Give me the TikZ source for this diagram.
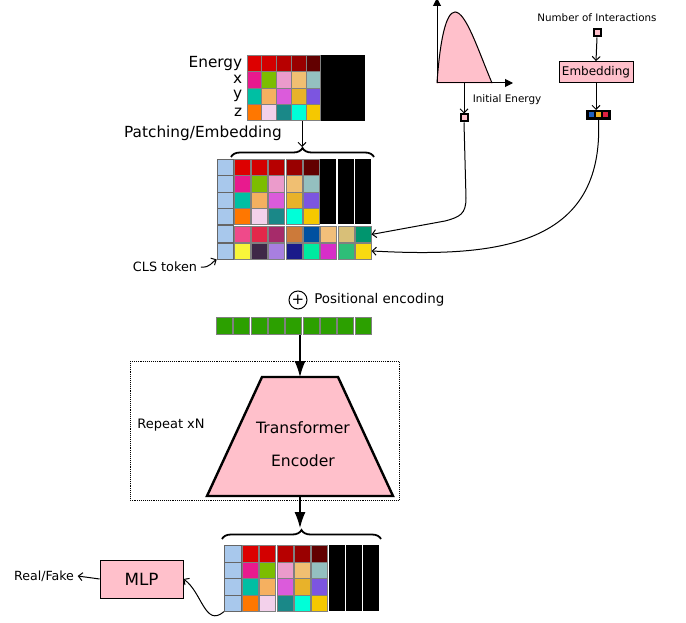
\documentclass[tikz,border=0pt]{standalone}
\usepackage{fontspec}
\setmainfont{DejaVu Sans}
\usetikzlibrary{positioning, shapes.geometric, arrows.meta, calc, decorations.pathreplacing}
\definecolor{ebA}{HTML}{DD0000}
\definecolor{ebB}{HTML}{D30000}
\definecolor{ebC}{HTML}{B70000}
\definecolor{ebD}{HTML}{990000}
\definecolor{ebE}{HTML}{620000}
\definecolor{pxA}{HTML}{E81A8E}
\definecolor{pxB}{HTML}{7CBD00}
\definecolor{pxC}{HTML}{EB9BCB}
\definecolor{pxD}{HTML}{F0BF72}
\definecolor{pxE}{HTML}{94C0C0}
\definecolor{pyA}{HTML}{00BFA3}
\definecolor{pyB}{HTML}{F5B060}
\definecolor{pyC}{HTML}{DB5BDB}
\definecolor{pyD}{HTML}{E8B22A}
\definecolor{pyE}{HTML}{7C55E0}
\definecolor{pzA}{HTML}{FF7700}
\definecolor{pzB}{HTML}{F3D1EB}
\definecolor{pzC}{HTML}{1A8888}
\definecolor{pzD}{HTML}{00FFD8}
\definecolor{pzE}{HTML}{F5C800}
\definecolor{tkA}{HTML}{EF4A8A}
\definecolor{tkB}{HTML}{E3284A}
\definecolor{tkC}{HTML}{A62B6A}
\definecolor{tkD}{HTML}{CC7A3A}
\definecolor{tkE}{HTML}{0050A0}
\definecolor{tkF}{HTML}{F2BF7A}
\definecolor{tkG}{HTML}{D8BF78}
\definecolor{tkH}{HTML}{00956E}
\definecolor{nkA}{HTML}{F8F53A}
\definecolor{nkB}{HTML}{3F2848}
\definecolor{nkC}{HTML}{A87FE0}
\definecolor{nkD}{HTML}{1A1A8A}
\definecolor{nkE}{HTML}{00EBA0}
\definecolor{nkF}{HTML}{D82EC8}
\definecolor{nkG}{HTML}{2EBE78}
\definecolor{nkH}{HTML}{F8DA10}
\definecolor{clsblue}{HTML}{A8C8EC}
\definecolor{posgreen}{HTML}{2CA000}
\definecolor{boxpink}{HTML}{FFC0CB}
\definecolor{tokblue}{HTML}{2060C0}
\definecolor{tokorange}{HTML}{F0B020}
\definecolor{tokred}{HTML}{E02040}
\def\pixrows{{ebA,ebB,ebC,ebD,ebE},{pxA,pxB,pxC,pxD,pxE},{pyA,pyB,pyC,pyD,pyE},{pzA,pzB,pzC,pzD,pzE}}

\begin{document}
\begin{tikzpicture}[x=1pt, y=-1pt, line width=1pt,
    incell/.style={draw=black!50, line width=0.6pt, inner sep=0pt, anchor=north west,
                   minimum width=14.7pt, minimum height=16.3pt},
    pcell/.style={draw=black!50, line width=0.6pt, inner sep=0pt, anchor=north west,
                  minimum width=16pt, minimum height=16.3pt},
    clscell/.style={pcell, fill=clsblue, draw=black!60, minimum width=16pt},
    thin arrow/.style={-{Straight Barb[length=4pt,width=8pt]}, line width=1pt},
    big arrow/.style={-{Latex[length=16pt,width=11pt]}, line width=1.2pt},
    bracket/.style={decorate, decoration={brace, amplitude=9pt}, line width=1.8pt},
    pinkbox/.style={draw, fill=boxpink, line width=0.8pt, inner sep=3pt},
    tinysq/.style={draw, line width=2pt, fill=boxpink, minimum size=7pt, inner sep=0pt}]
  \useasboundingbox (0,0) rectangle (686,623);

  % input patches
  \foreach \row [count=\j from 0] in \pixrows
    \foreach \c [count=\i from 1] in \row
      \node[incell, fill=\c] (in-\j-\i) at ({246.7+14.7*(\i-1)},{55+16.3*\j}) {};
  \fill[black] (in-0-5.north east) rectangle ($(in-3-5.south east)+(44,0)$);
  \foreach \t [count=\j from 0] in {Energy,x,y,z}
    \node[anchor=east, inner sep=0pt, font=\fontsize{15.3}{17}\selectfont] at ($(in-\j-1.west)+(-4,0)$) {\t};
  \node[font=\fontsize{15.3}{17}\selectfont] (patchlbl) at (203,133) {Patching/Embedding};

  % embedded tokens
  \foreach \y [count=\j from 0] in {159,175.3,191.6,207.9,225.5,242.5}
    \node[clscell] (cls-\j) at (216.7,\y) {};
  \foreach \row [count=\j from 0] in \pixrows
    \foreach \c [count=\i from 1] in \row
      \node[pcell, fill=\c] (p-\j-\i) at ({233.5+17.35*(\i-1)},{159+16.3*\j}) {};
  \foreach \i in {6,7,8}
    \fill[black] ({233.5+17.35*(\i-1)},159) rectangle ++(16,65.2);
  \foreach \row [count=\j from 4] in {{tkA,tkB,tkC,tkD,tkE,tkF,tkG,tkH},{nkA,nkB,nkC,nkD,nkE,nkF,nkG,nkH}}
    \foreach \c [count=\i from 1] in \row
      \node[pcell, fill=\c] (p-\j-\i) at ({233.5+17.35*(\i-1)},{226+16.5*(\j-4)}) {};
  \draw[bracket] (231,157) -- (374,157);
  \coordinate (pbrace) at (302,147);
  \draw[thin arrow] (pbrace |- in-3-3.south) -- (pbrace);

  \node[font=\fontsize{12.8}{15}\selectfont] (clslbl) at (165,267) {CLS token};
  \draw[thin arrow] (clslbl.east) .. controls (210,268) and (212,262) .. (cls-5.south west);

  % energy spectrum
  \coordinate (origin) at (437,83);
  \draw[boxpink, fill=boxpink] (origin) .. controls (440,40) and (446,12) .. (455,12)
      .. controls (466,12) and (478,50) .. (492,83) -- cycle;
  \draw (origin) .. controls (440,40) and (446,12) .. (455,12)
      .. controls (466,12) and (478,50) .. (492,83);
  \draw[-{Triangle[length=8pt,width=8pt]}] (origin) -- (437,-2);
  \draw[-{Triangle[length=8pt,width=8pt]}] (origin) -- (513,83);
  \node[tinysq] (esq) at (464,118) {};
  \draw[thin arrow] (esq |- origin) -- (esq.north);
  \node[font=\fontsize{10.4}{12}\selectfont, anchor=west] (elbl) at (469,100) {Initial Energy};

  % interactions
  \node[font=\fontsize{10.3}{12}\selectfont] (nlbl) at (597,18) {Number of Interactions};
  \node[tinysq] (nsq) at (597,33) {};
  \node[pinkbox, minimum width=74pt, minimum height=21pt, font=\fontsize{12}{14}\selectfont] (emb) at (596,72) {Embedding};
  \node[draw, line width=2pt, fill=black, minimum width=23pt, minimum height=8pt, inner sep=0pt] (tok) at (598.5,115) {};
  \foreach \c [count=\i from -1] in {tokblue,tokorange,tokred}
    \fill[\c] ($(tok)+(\i*7.2-2.5,-2.5)$) rectangle ++(5,5);
  \draw[thin arrow] (nsq.south) -- (emb.north);
  \draw[thin arrow] (emb.south) -- (emb.south |- tok.north);

  \draw[thin arrow] (esq.south) -- (466,198) .. controls (466,214) and (460,217) .. (445,221) -- (p-4-8.east);
  \draw[thin arrow] (tok.south) .. controls (604,245) and (500,258) .. (p-5-8.east);

  % positional encoding
  \node[circle, draw, minimum size=18pt, inner sep=0pt, font=\fontsize{15}{15}\selectfont] (pe) at (298,300) {+};
  \node[right=3pt of pe, font=\fontsize{13.4}{15}\selectfont] (pelbl) {Positional encoding};
  \foreach \i in {0,...,8}
    \node[pcell, fill=posgreen, minimum height=17pt] (g-\i) at ({216+17.35*\i},317) {};

  % encoder
  \draw[densely dotted, line width=0.9pt] (130,361) rectangle (399,500);
  \node[font=\fontsize{13}{15}\selectfont] (rep) at (171,425) {Repeat xN};
  \draw[fill=boxpink, line width=2.4pt, line join=miter] (262,377) -- (338,377) -- (393,496) -- (207,496) -- cycle;
  \coordinate (enctop) at (300,377);
  \coordinate (encbot) at (300,496);
  \node[align=center, font=\fontsize{15.6}{18}\selectfont] (enc) at (303,444) {Transformer\\[15pt]Encoder};
  \draw[big arrow] (enctop |- g-4.south) -- (enctop);

  % output tokens
  \foreach \j in {0,...,3}
    \node[clscell, minimum width=17pt, minimum height=16.5pt] (oc-\j) at (224,{545+16.5*\j}) {};
  \foreach \row [count=\j from 0] in \pixrows
    \foreach \c [count=\i from 1] in \row
      \node[pcell, fill=\c, minimum height=16.5pt] (o-\j-\i) at ({242+17.3*(\i-1)},{545+16.5*\j}) {};
  \foreach \i in {6,7,8}
    \fill[black] ({242+17.3*(\i-1)},545) rectangle ++(16,66);
  \draw[bracket] (222,539) -- (381,539);
  \coordinate (obrace) at (300,528);
  \draw[big arrow] (encbot) -- (obrace);

  % head
  \node[pinkbox, minimum width=83pt, minimum height=38pt, font=\fontsize{16.8}{19}\selectfont] (mlp) at (141.5,579) {MLP};
  \node[font=\fontsize{12.6}{14}\selectfont] (rf) at (44,576) {Real/Fake};
  \draw[thin arrow] (mlp.west) -- (rf.east);
  \draw[thin arrow] (oc-3.south west) .. controls (205,628) and (202,592) .. (mlp.east);
\end{tikzpicture}
\end{document}
